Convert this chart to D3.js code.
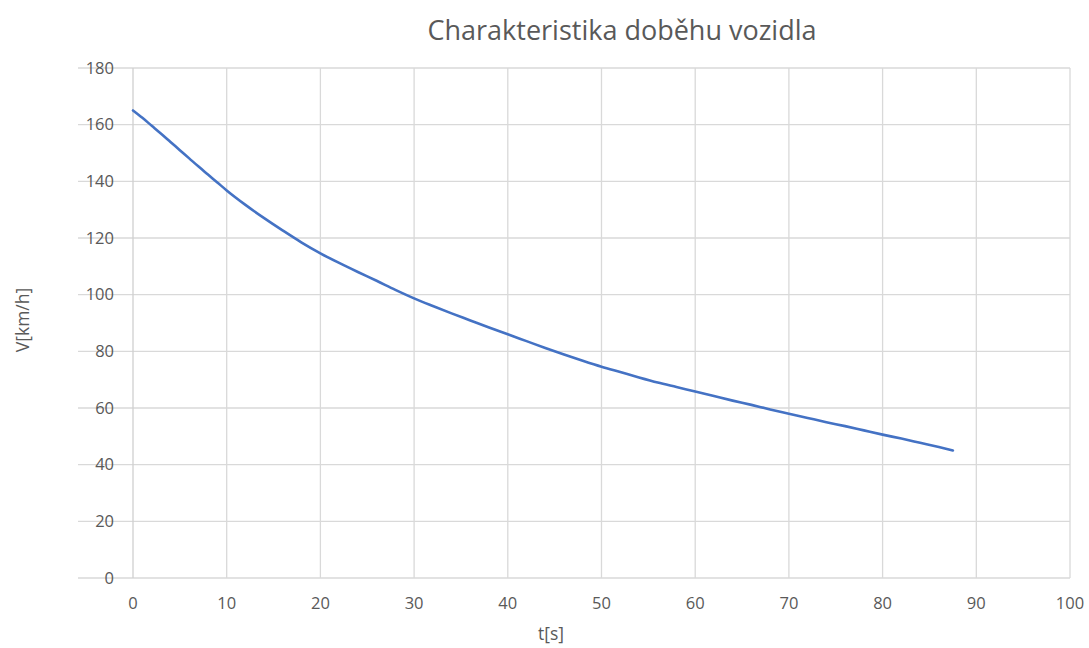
<!DOCTYPE html>
<html>
<head>
<meta charset="utf-8">
<script src="https://cdn.jsdelivr.net/npm/d3@7"></script>
<style>
  html, body { margin: 0; padding: 0; background: #fff; }
  svg { display: block; }
  text { font-family: "Open Sans", "Noto Sans", sans-serif; fill: #595959; }
</style>
</head>
<body>
<svg id="chart" width="1089" height="648"></svg>
<script>
// Coast-down measurement: time [s] and vehicle speed [km/h]
const timeS = [0, 1, 2, 3, 4, 5, 6, 7, 8, 9, 10, 12, 14, 16, 18, 20, 22, 24, 26, 28, 30,
  32, 34, 36, 38, 40, 42, 44, 46, 48, 50, 52, 54, 56, 58, 60, 62, 64, 66, 68, 70,
  72, 74, 76, 78, 80, 82, 84, 86, 87.5];
const speedKmh = [165, 162.4, 159.6, 156.8, 153.9, 151, 148.1, 145.2, 142.4, 139.6, 136.8,
  131.7, 127, 122.6, 118.4, 114.6, 111.2, 108, 104.9, 101.7, 98.7,
  96, 93.4, 90.9, 88.4, 86, 83.6, 81.2, 78.9, 76.7, 74.6, 72.7, 70.8, 69, 67.4, 65.8,
  64.2, 62.6, 61.1, 59.5, 58, 56.5, 55, 53.6, 52.1, 50.6, 49.2, 47.7, 46.2, 45];
const xTicks = [0, 10, 20, 30, 40, 50, 60, 70, 80, 90, 100];
const yTicks = [0, 20, 40, 60, 80, 100, 120, 140, 160, 180];

const titleText = "Charakteristika doběhu vozidla";
const xTitle = "t[s]";
const yTitle = "V[km/h]";

const svg = d3.select("#chart");
const plot = { left: 133, right: 1070, top: 68, bottom: 578 };

const x = d3.scaleLinear().domain([0, 100]).range([plot.left, plot.right]);
const y = d3.scaleLinear().domain([0, 180]).range([plot.bottom, plot.top]);

// Horizontal gridlines, running out under the value labels
svg.append("g")
  .selectAll("line")
  .data(yTicks)
  .join("line")
  .attr("x1", 78)
  .attr("x2", plot.right)
  .attr("y1", d => y(d))
  .attr("y2", d => y(d))
  .attr("stroke", "#d9d9d9")
  .attr("stroke-width", 1.3);

// Vertical gridlines
svg.append("g")
  .selectAll("line")
  .data(xTicks)
  .join("line")
  .attr("x1", d => x(d))
  .attr("x2", d => x(d))
  .attr("y1", plot.top)
  .attr("y2", plot.bottom)
  .attr("stroke", d => d === 0 ? "#cfcfcf" : "#d9d9d9")
  .attr("stroke-width", 1.3);

// Y tick labels
svg.append("g")
  .selectAll("text")
  .data(yTicks)
  .join("text")
  .attr("x", 114)
  .attr("y", d => y(d))
  .attr("dy", "0.35em")
  .attr("text-anchor", "end")
  .attr("font-size", 16.5)
  .text(d => d);

// X tick labels
svg.append("g")
  .selectAll("text")
  .data(xTicks)
  .join("text")
  .attr("x", d => x(d))
  .attr("y", 609)
  .attr("text-anchor", "middle")
  .attr("font-size", 16.5)
  .text(d => d);

// Speed curve
const line = d3.line()
  .x((d, i) => x(timeS[i]))
  .y(d => y(d))
  .curve(d3.curveMonotoneX);

svg.append("path")
  .datum(speedKmh)
  .attr("d", line)
  .attr("fill", "none")
  .attr("stroke", "#4472c4")
  .attr("stroke-width", 2.6)
  .attr("stroke-linejoin", "round")
  .attr("stroke-linecap", "round");

// Titles
svg.append("text")
  .attr("x", 622)
  .attr("y", 40)
  .attr("text-anchor", "middle")
  .attr("font-size", 27)
  .text(titleText);

svg.append("text")
  .attr("x", 551)
  .attr("y", 640)
  .attr("text-anchor", "middle")
  .attr("font-size", 17.5)
  .text(xTitle);

svg.append("text")
  .attr("transform", "translate(29,320) rotate(-90)")
  .attr("text-anchor", "middle")
  .attr("font-size", 17.5)
  .text(yTitle);
</script>
</body>
</html>
